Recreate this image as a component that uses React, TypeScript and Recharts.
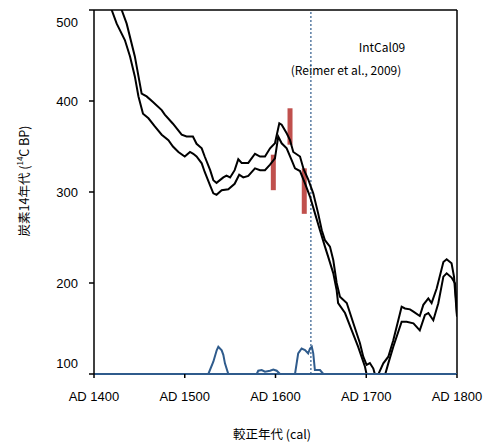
import { LineChart, Line, XAxis, YAxis, ReferenceLine } from 'recharts';

// IntCal09 calibration curve, upper / lower 1-sigma bounds: [cal AD, 14C BP]
const UPPER_CURVE: [number, number][] = [
  [1426, 512], [1430.5, 500], [1436, 485], [1445, 449], [1452.5, 408], [1458, 405],
  [1465, 399], [1474.6, 390], [1478, 385], [1487, 375], [1496.6, 363], [1502, 361],
  [1509, 361], [1513, 353], [1518.7, 348], [1522, 339], [1528, 324], [1531.5, 313],
  [1535, 310], [1542.5, 316], [1546, 318], [1550, 316], [1555, 324], [1559, 336],
  [1562.7, 332], [1570, 332], [1577.4, 342], [1583, 339], [1588.4, 339], [1594, 348],
  [1599.4, 353.5], [1604.2, 375.5], [1606.8, 374], [1612.3, 364.5], [1616, 357],
  [1619.6, 344], [1627, 339], [1631, 325], [1636, 314], [1641.6, 298.5], [1647, 276.5],
  [1651, 258], [1654.5, 247], [1660, 240], [1663.7, 225], [1667.4, 200], [1671, 185],
  [1678.5, 178], [1685.7, 156], [1693, 134], [1696.7, 119], [1700.4, 110], [1704, 112],
  [1707.8, 106], [1710, 98], [1711.5, 96], [1713, 99], [1718.8, 111.7], [1724.3, 119],
  [1729.8, 137], [1739, 174], [1742.7, 172], [1748.2, 171], [1752, 168.5], [1759, 163.7],
  [1762.9, 176], [1768.4, 183], [1772, 178], [1777.6, 194], [1785, 223], [1788.6, 226],
  [1794, 221.6], [1796.7, 207], [1800, 163],
];

const LOWER_CURVE: [number, number][] = [
  [1416, 512], [1419.5, 500], [1425, 485], [1434, 467], [1439.7, 449], [1445, 427],
  [1449, 405], [1454, 386], [1460, 381], [1467, 372], [1474.6, 363], [1482, 357],
  [1487, 350], [1493, 344], [1500, 339], [1505.8, 344], [1509.4, 342], [1513, 339],
  [1518.7, 331.5], [1522, 322], [1528, 307], [1531.5, 298.5], [1535, 297], [1540.7, 302],
  [1548, 303], [1555, 309], [1560, 319], [1564.5, 316], [1570, 317.6], [1577.4, 326],
  [1583, 324], [1588.4, 324], [1594, 330], [1599.4, 337], [1603, 361], [1606.8, 353.5],
  [1612.3, 348], [1617.8, 335], [1621.5, 326], [1627, 323], [1632.5, 309.5], [1638, 295],
  [1643.5, 276.5], [1649, 258], [1654.5, 240], [1658, 229], [1663.7, 210.6], [1667.4, 192],
  [1669, 178], [1676.6, 167], [1684, 148], [1691, 130], [1698.6, 108], [1702, 92],
  [1710, 85], [1718, 90], [1720.7, 99], [1724.3, 111.7], [1729.8, 130], [1739, 157.5],
  [1744.5, 157.5], [1752, 155.6], [1759, 148], [1764.7, 165], [1768.4, 167], [1773.9, 159],
  [1779.4, 177.7], [1785, 207], [1788.6, 210.6], [1794, 206], [1797.8, 199.6], [1800, 166],
];

// probability distribution of the calibrated date, drawn on the 100 BP baseline
const PROBABILITY: [number, number][] = [
  [1400, 100], [1526, 100], [1531.5, 113.5], [1535.2, 126], [1537, 130], [1540.7, 126],
  [1542.5, 121], [1544.3, 111.7], [1548, 100], [1579.3, 100], [1581, 103.6], [1584.8, 104.4],
  [1588.4, 102.5], [1594, 103.6], [1597.6, 105], [1601.3, 103.6], [1605, 100], [1621.5, 100],
  [1625, 122.7], [1628.8, 128], [1632.5, 126.4], [1636, 122.7], [1638, 128], [1640, 130],
  [1641.6, 122.7], [1643.4, 104.4], [1649, 104.4], [1652.7, 100], [1800, 100],
];

// stretches of the baseline under the peaks, where the black axis shows
const PEAK_RANGES: [number, number][] = [
  [1526, 1548],
  [1579.3, 1605],
  [1621.5, 1652.7],
];

// measured 14C ages (range bars): [cal AD, low BP, high BP]
const DATES: [number, number, number][] = [
  [1597.6, 302, 341],
  [1616, 352, 392],
  [1631.7, 276, 326],
];

const X_TICKS = [1400, 1500, 1600, 1700, 1800];
const Y_TICKS = [100, 200, 300, 400, 500];
const MARKER_YEAR = 1639;

const toPoints = (arr: [number, number][]) => arr.map(([year, bp]) => ({ year, bp }));

const SANS = '"Liberation Sans", Arial, sans-serif';
const JP = '"Noto Sans CJK JP", sans-serif';
const BLUE = '#2f5b8c';
const RED = '#c0504d';

function YTick(props: any) {
  const { x, y, payload } = props;
  const shift = payload.value === 100 ? -11 : payload.value === 500 ? 12 : 0;
  return (
    <text x={x} y={y + shift} textAnchor="end" dominantBaseline="central" fontSize={13} fontFamily={SANS} fill="#000">
      {payload.value}
    </text>
  );
}

export default function App() {
  return (
    <div style={{ position: 'absolute', left: 0, top: 0, background: '#fff' }}>
      <LineChart width={489} height={444} margin={{ top: 10, right: 32, bottom: 0, left: 0 }}>
        <XAxis
          type="number"
          dataKey="year"
          domain={[1400, 1800]}
          ticks={X_TICKS}
          allowDataOverflow
          tickFormatter={(v: number) => `AD ${v}`}
          tick={{ fill: '#000', fontSize: 13, fontFamily: SANS }}
          tickSize={4}
          tickMargin={14}
          height={70}
          axisLine={{ stroke: BLUE, strokeWidth: 2 }}
          tickLine={{ stroke: '#000', strokeWidth: 1.5 }}
        />
        <YAxis
          type="number"
          domain={[100, 500]}
          ticks={Y_TICKS}
          allowDataOverflow
          tick={<YTick />}
          tickSize={5}
          tickMargin={11}
          width={94}
          axisLine={{ stroke: '#000', strokeWidth: 1.5 }}
          tickLine={{ stroke: '#000', strokeWidth: 1.5 }}
        />
        <ReferenceLine y={500} stroke="#000" strokeWidth={1.5} />
        <ReferenceLine x={1800} stroke="#000" strokeWidth={1.5} />
        {PEAK_RANGES.map(([a, b], i) => (
          <ReferenceLine
            key={`peak-${i}`}
            segment={[{ x: a, y: 100 }, { x: b, y: 100 }]}
            stroke="#000"
            strokeWidth={2}
          />
        ))}
        <ReferenceLine x={MARKER_YEAR} stroke={BLUE} strokeWidth={1.2} strokeDasharray="2 2" />
        {DATES.map(([year, lo, hi], i) => (
          <Line
            key={`date-${i}`}
            data={[{ year, bp: lo }, { year, bp: hi }]}
            dataKey="bp"
            stroke={RED}
            strokeWidth={5}
            strokeLinecap="butt"
            dot={false}
            isAnimationActive={false}
          />
        ))}
        <Line data={toPoints(UPPER_CURVE)} dataKey="bp" type="linear" stroke="#000" strokeWidth={2} dot={false} isAnimationActive={false} />
        <Line data={toPoints(LOWER_CURVE)} dataKey="bp" type="linear" stroke="#000" strokeWidth={2} dot={false} isAnimationActive={false} />
        <Line data={toPoints(PROBABILITY)} dataKey="bp" type="linear" stroke={BLUE} strokeWidth={2} dot={false} isAnimationActive={false} />

        <text x={382} y={46} textAnchor="middle" dominantBaseline="central" fontSize={12} fontFamily={JP} fill="#000">
          IntCal09
        </text>
        <text x={346} y={69} textAnchor="middle" dominantBaseline="central" fontSize={12} fontFamily={JP} fill="#000">
          (Reimer et al., 2009)
        </text>
        <text
          x={23}
          y={181}
          transform="rotate(-90, 23, 181)"
          textAnchor="middle"
          dominantBaseline="central"
          fontSize={12.5}
          fontFamily={JP}
          fill="#000"
        >
          炭素14年代 (<tspan fontSize={8} dy={-4}>14</tspan><tspan dy={4}>C BP)</tspan>
        </text>
        <text x={272} y={433} textAnchor="middle" dominantBaseline="central" fontSize={12.5} fontFamily={JP} fill="#000">
          較正年代 (cal)
        </text>
      </LineChart>
    </div>
  );
}
